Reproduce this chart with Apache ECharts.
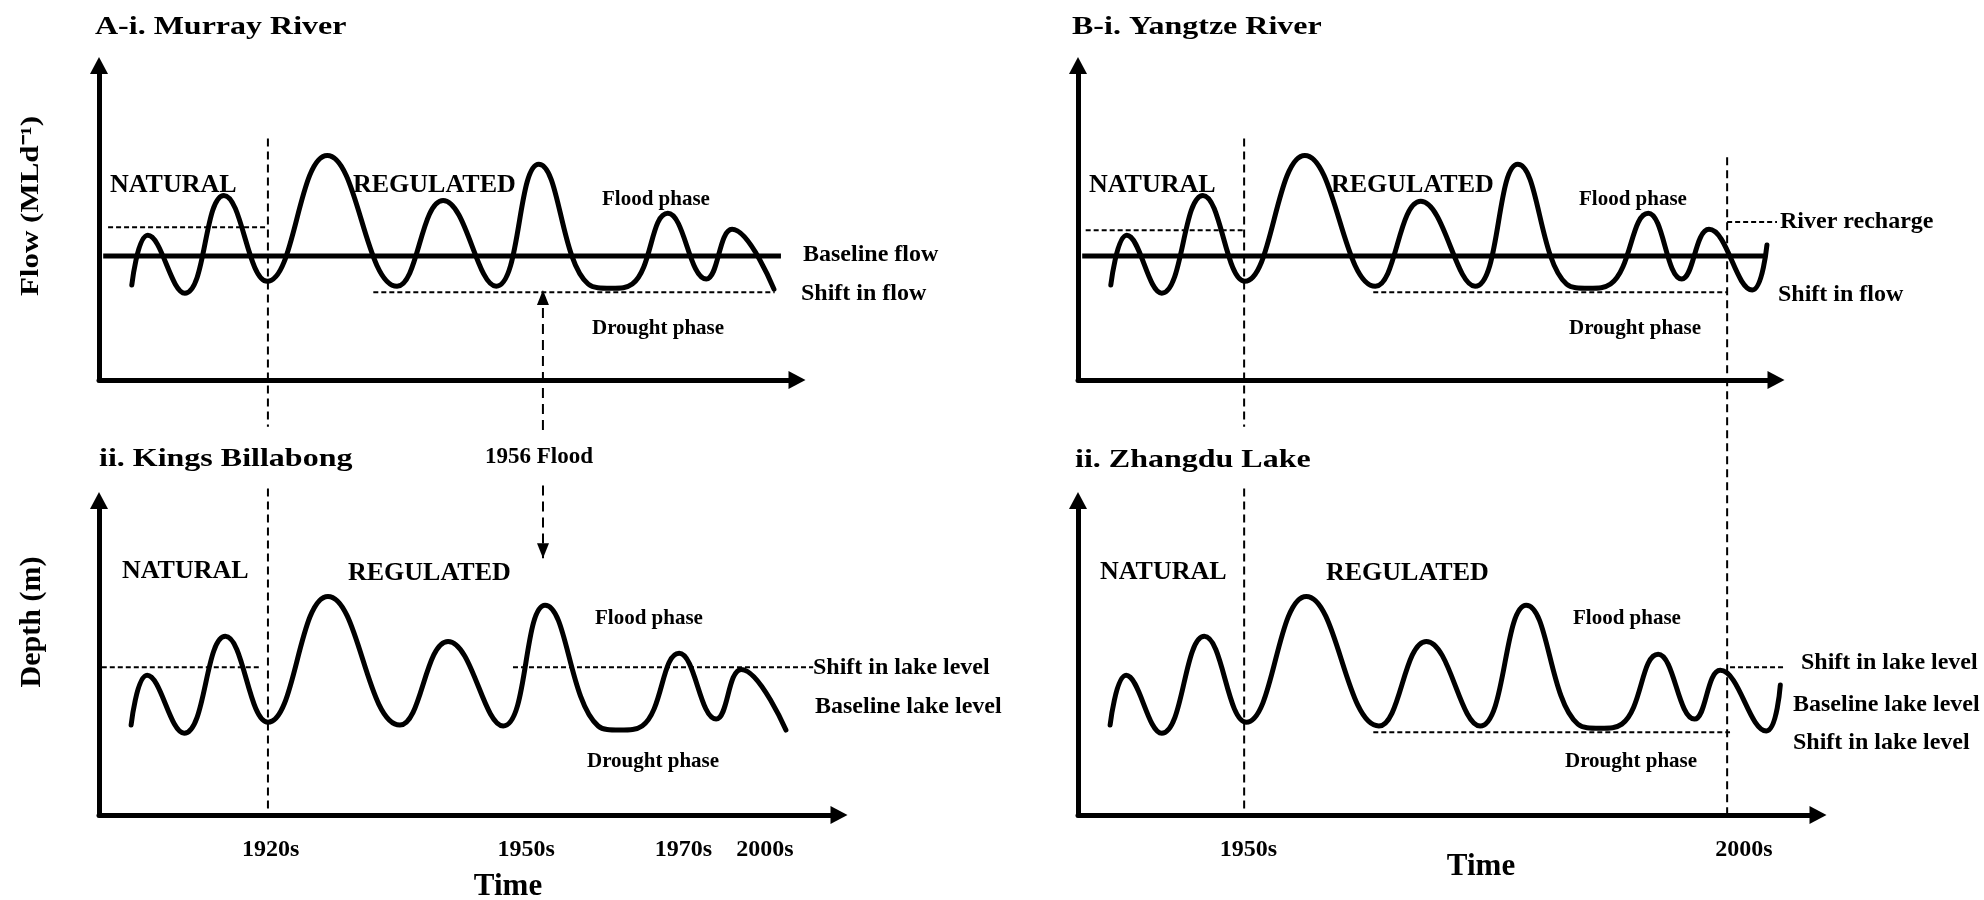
<!DOCTYPE html>
<html>
<head>
<meta charset="utf-8">
<title>Natural vs regulated flow and lake level</title>
<script src="https://cdn.jsdelivr.net/npm/echarts@6/dist/echarts.min.js"></script>
<style>
html, body { margin: 0; padding: 0; background: #fff; }
#chart { width: 1984px; height: 900px; }
</style>
</head>
<body>
<div id="chart"></div>
<script>
// schematic units: time 0-100 along each axis, flow / depth 0-100 (relative)
const murrayTime = [4.7, 7.0, 12.3, 17.9, 24.1, 32.7, 42.7, 49.3, 56.9, 63.0, 70.1, 73.4, 76.4, 81.5, 87.0, 90.7, 96.7];
const murrayFlow = [30.2, 46.0, 27.6, 58.7, 31.4, 71.4, 29.8, 57.1, 29.8, 68.6, 30.5, 29.2, 30.5, 53.0, 32.1, 47.9, 28.9];

const yangtzeTime = [4.7, 7.0, 12.0, 17.9, 23.9, 32.5, 42.6, 49.1, 56.9, 63.0, 70.0, 73.2, 76.3, 81.7, 86.5, 90.4, 96.6, 98.7];
const yangtzeFlow = [30.2, 46.0, 27.6, 58.7, 31.4, 71.4, 29.8, 56.8, 29.8, 68.6, 30.5, 29.2, 30.5, 53.0, 32.1, 47.9, 28.6, 42.9];

const kingsTime = [4.6, 6.9, 12.2, 18.1, 24.2, 32.8, 43.1, 50.0, 57.9, 63.9, 71.5, 74.6, 77.8, 83.1, 88.4, 92.0, 98.4];
const kingsDepth = [28.6, 44.4, 26.0, 56.8, 29.5, 69.5, 28.6, 55.2, 28.3, 66.7, 28.3, 27.0, 28.3, 51.4, 30.5, 46.3, 27.0];

const zhangduTime = [4.6, 6.9, 12.0, 18.1, 24.1, 32.7, 43.1, 49.9, 57.6, 64.2, 71.6, 74.8, 77.9, 83.1, 88.3, 92.0, 98.6, 100.6];
const zhangduDepth = [28.6, 44.4, 26.0, 56.8, 29.5, 69.5, 28.3, 55.2, 28.3, 66.7, 28.9, 27.6, 28.9, 51.1, 30.5, 46.0, 26.7, 41.3];

// reference levels: [start time, end time, level]
const murrayBaseline = [0.6, 97.7, 39.4];
const murrayNaturalLevel = [1.3, 24.2, 48.6];
const murrayShiftLevel = [39.3, 96.8, 27.9];
const yangtzeBaseline = [0.6, 98.4, 39.4];
const yangtzeNaturalLevel = [1.1, 23.9, 47.6];
const yangtzeShiftLevel = [42.3, 93.0, 27.9];
const yangtzeRecharge = [93.0, 100.6, 50.2];
const kingsShiftBefore = [0.4, 23.2, 47.0];
const kingsShiftAfter = [59.3, 102.3, 47.0];
const zhangduShiftLow = [42.3, 93.4, 26.3];
const zhangduShiftHigh = [93.4, 101.0, 47.0];

// event times
const murrayRegulation = 24.2;   // 1920s
const flood1956 = 63.6;
const yangtzeRegulation = 23.8;  // 1950s
const yangtzeRecent = 93.0;      // 2000s

// tick labels
const kingsTickLabels = ['1920s', '1950s', '1970s', '2000s'];
const kingsTickTimes = [24.6, 61.2, 83.7, 95.4];
const zhangduTickLabels = ['1950s', '2000s'];
const zhangduTickTimes = [24.4, 95.4];

const FONT = '"Liberation Serif", "Times New Roman", serif';
const chart = echarts.init(document.getElementById('chart'));

function axisX(max, ticks, labels) {
    const ax = {
        type: 'value', min: 0, max: max,
        axisLine: { show: true, onZero: false, symbol: ['none', 'triangle'], symbolSize: [18, 17],
            lineStyle: { color: '#000', width: 5 } },
        axisTick: { show: false },
        splitLine: { show: false },
        axisLabel: { show: false }
    };
    if (ticks) {
        ax.axisLabel = {
            show: true,
            customValues: ticks,
            formatter: function (v) {
                let best = 0;
                ticks.forEach(function (t, i) { if (Math.abs(t - v) < Math.abs(ticks[best] - v)) best = i; });
                return labels[best];
            },
            margin: 23,
            color: '#000',
            fontFamily: FONT,
            fontWeight: 'bold',
            fontSize: 24
        };
    }
    return ax;
}

function axisY() {
    return {
        type: 'value', min: 0, max: 100,
        axisLine: { show: true, onZero: false, symbol: ['none', 'triangle'], symbolSize: [18, 17],
            lineStyle: { color: '#000', width: 5 } },
        axisTick: { show: false },
        splitLine: { show: false },
        axisLabel: { show: false }
    };
}

function curve(g, time, vals) {
    return {
        type: 'line', xAxisIndex: g, yAxisIndex: g,
        data: time.map(function (t, i) { return [t, vals[i]]; }),
        smooth: 0.45, showSymbol: false, silent: true, clip: false, z: 4,
        lineStyle: { color: '#000', width: 5, cap: 'round', join: 'round' }
    };
}

function level(g, lv, style) {
    return {
        type: 'line', xAxisIndex: g, yAxisIndex: g,
        data: [[lv[0], lv[2]], [lv[1], lv[2]]],
        showSymbol: false, silent: true, clip: false, z: 3,
        lineStyle: style
    };
}

function vline(g, t, from, to, style, arrow) {
    const end = arrow ? {
        value: [t, to], symbol: 'triangle', symbolSize: [12, 15],
        symbolRotate: arrow === 'down' ? 180 : 0,
        symbolOffset: [0, arrow === 'down' ? '-50%' : '50%']
    } : [t, to];
    return {
        type: 'line', xAxisIndex: g, yAxisIndex: g,
        data: [[t, from], end],
        symbol: 'none', showSymbol: true, showAllSymbol: true,
        itemStyle: { color: '#000' },
        silent: true, clip: false, z: 3,
        lineStyle: style
    };
}

const thick = { color: '#000', width: 5 };
const dashH = { color: '#000', width: 2, type: [5, 3] };
const dashV = { color: '#000', width: 2, type: [8, 5] };
const dashA = { color: '#000', width: 2, type: [10, 6] };

function txt(text, x, y, size, extra) {
    const el = {
        type: 'text', x: x, y: y, silent: true,
        style: {
            text: text, fill: '#000', fontFamily: FONT, fontWeight: 'bold', fontSize: size,
            align: 'left', verticalAlign: 'middle'
        }
    };
    return Object.assign(el, extra || {});
}
function ctr(el) { el.style.align = 'center'; return el; }

const option = {
    animation: false,
    backgroundColor: '#fff',
    grid: [
        { left: 99, top: 65.5, width: 698, height: 314.5 },
        { left: 1078, top: 65.5, width: 698, height: 314.5 },
        { left: 99, top: 500.5, width: 740, height: 314.5 },
        { left: 1078, top: 500.5, width: 740, height: 314.5 }
    ],
    xAxis: [
        Object.assign(axisX(100), { gridIndex: 0 }),
        Object.assign(axisX(100), { gridIndex: 1 }),
        Object.assign(axisX(106, kingsTickTimes, kingsTickLabels), { gridIndex: 2 }),
        Object.assign(axisX(106, zhangduTickTimes, zhangduTickLabels), { gridIndex: 3 })
    ],
    yAxis: [0, 1, 2, 3].map(function (g) { return Object.assign(axisY(), { gridIndex: g }); }),
    series: [
        // A-i Murray River
        level(0, murrayBaseline, thick),
        level(0, murrayNaturalLevel, dashH),
        level(0, murrayShiftLevel, dashH),
        curve(0, murrayTime, murrayFlow),
        vline(0, murrayRegulation, 76.8, -14.9, dashV),
        vline(0, flood1956, -15.9, 28.6, dashA, 'up'),
        // B-i Yangtze River
        level(1, yangtzeBaseline, thick),
        level(1, yangtzeNaturalLevel, dashH),
        level(1, yangtzeShiftLevel, dashH),
        level(1, yangtzeRecharge, dashH),
        curve(1, yangtzeTime, yangtzeFlow),
        vline(1, yangtzeRegulation, 76.8, -14.9, dashV),
        vline(1, yangtzeRecent, 70.8, -138.1, dashV),
        // A-ii Kings Billabong
        level(2, kingsShiftBefore, dashH),
        level(2, kingsShiftAfter, dashH),
        curve(2, kingsTime, kingsDepth),
        vline(2, murrayRegulation, 103.8, 0, dashV),
        vline(2, flood1956, 104.8, 81.6, dashA, 'down'),
        // B-ii Zhangdu Lake
        level(3, zhangduShiftLow, dashH),
        level(3, zhangduShiftHigh, dashH),
        curve(3, zhangduTime, zhangduDepth),
        vline(3, yangtzeRegulation, 103.8, 0, dashV)
    ],
    graphic: [
        txt('A-i. Murray River', 95, 28, 25, { scaleX: 1.28 }),
        txt('B-i. Yangtze River', 1072, 28, 25, { scaleX: 1.28 }),
        txt('ii. Kings Billabong', 99, 460, 25, { scaleX: 1.28 }),
        txt('ii. Zhangdu Lake', 1075, 461, 25, { scaleX: 1.28 }),
        ctr(txt('Flow (MLd\u207B\u00B9)', 32, 206, 25, { rotation: Math.PI / 2, scaleX: 1.24 })),
        ctr(txt('Depth (m)', 32, 622, 30, { rotation: Math.PI / 2 })),

        txt('NATURAL', 110, 185, 26),
        txt('REGULATED', 353, 185, 26),
        txt('Flood phase', 602, 200, 21),
        txt('Baseline flow', 803, 255, 24),
        txt('Shift in flow', 801, 294, 24),
        txt('Drought phase', 592, 329, 21),

        txt('NATURAL', 1089, 185, 26),
        txt('REGULATED', 1331, 185, 26),
        txt('Flood phase', 1579, 200, 21),
        txt('Drought phase', 1569, 329, 21),
        txt('River recharge', 1780, 222, 24),
        txt('Shift in flow', 1778, 295, 24),

        txt('1956 Flood', 485, 457, 23),

        txt('NATURAL', 122, 571, 26),
        txt('REGULATED', 348, 573, 26),
        txt('Flood phase', 595, 619, 21),
        txt('Shift in lake level', 813, 668, 24),
        txt('Baseline lake level', 815, 707, 24),
        txt('Drought phase', 587, 762, 21),
        ctr(txt('Time', 508, 887, 31)),

        txt('NATURAL', 1100, 572, 26),
        txt('REGULATED', 1326, 573, 26),
        txt('Flood phase', 1573, 619, 21),
        txt('Drought phase', 1565, 762, 21),
        txt('Shift in lake level', 1801, 663, 24),
        txt('Baseline lake level', 1793, 705, 24),
        txt('Shift in lake level', 1793, 743, 24),
        ctr(txt('Time', 1481, 867, 31))
    ]
};

chart.setOption(option);
window.addEventListener('resize', function () { chart.resize(); });
</script>
</body>
</html>
